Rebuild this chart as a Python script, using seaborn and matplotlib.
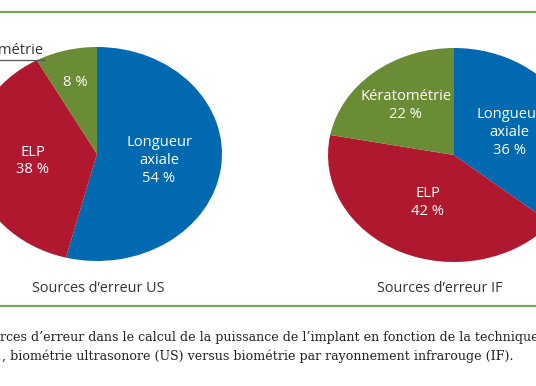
import numpy as np
import matplotlib
matplotlib.use('Agg')
import matplotlib.pyplot as plt
import seaborn as sns

categories = ['Longueur axiale', 'ELP', 'Kératométrie']
us_values = [54, 38, 8]
if_values = [36, 42, 22]
colors = ['#0069AF', '#B0182F', '#6A8C35']
titles = ['Sources d’erreur US', 'Sources d’erreur IF']
caption = ['rces d’erreur dans le calcul de la puissance de l’implant en fonction de la technique',
           ', biométrie ultrasonore (US) versus biométrie par rayonnement infrarouge (IF).']

sns.set_theme(style='white')
plt.rcParams['font.family'] = ['Open Sans', 'DejaVu Sans']

W, H = 536, 386
fig = plt.figure(figsize=(W / 100, H / 100), dpi=100)


def px_axes(cx, cy, rx, ry):
    return fig.add_axes([(cx - rx) / W, (H - cy - ry) / H, 2 * rx / W, 2 * ry / H])


def label_text(cat, val):
    if cat == 'Longueur axiale':
        return f'Longueur\naxiale\n{val} %'
    return f'{cat}\n{val} %'


def draw_pie(ax, values, radii, inside):
    wedges, _ = ax.pie(values, colors=colors, startangle=90, counterclock=False,
                       radius=1, wedgeprops=dict(linewidth=0))
    ax.set_aspect('auto')
    ax.set_xlim(-1, 1)
    ax.set_ylim(-1, 1)
    for w, cat, val, r, show in zip(wedges, categories, values, radii, inside):
        ang = np.deg2rad((w.theta1 + w.theta2) / 2)
        txt = label_text(cat, val) if show else f'{val} %'
        ax.text(r * np.cos(ang), r * np.sin(ang), txt, ha='center', va='center',
                color='white', fontsize=10.6, linespacing=1.25, clip_on=False)


ax1 = px_axes(97, 154, 125, 107)
draw_pie(ax1, us_values, [0.5, 0.52, 0.69], [True, True, False])
ax1.plot([-1.3, -0.42], [0.88, 0.88], color='#555555', lw=0.9, clip_on=False)
ax1.text(-0.43, 0.97, 'Kératométrie', ha='right', va='center', color='#333333',
         fontsize=10.6, clip_on=False)

ax2 = px_axes(454, 155, 126, 107)
draw_pie(ax2, if_values, [0.49, 0.49, 0.6], [True, True, True])

fig.text(98 / W, 1 - 288 / H, titles[0], ha='center', va='center', fontsize=10.4, color='#333333')
fig.text(440 / W, 1 - 288 / H, titles[1], ha='center', va='center', fontsize=10.4, color='#333333')

for y in [12, 306]:
    fig.add_artist(plt.Line2D([0, 1], [1 - y / H, 1 - y / H], color='#7AA55A', lw=1.6))

fig.text(0, 1 - 338 / H, caption[0], ha='left', va='center', fontsize=9.1,
         family='DejaVu Serif', color='#222222')
fig.text(2 / W, 1 - 356 / H, caption[1], ha='left', va='center', fontsize=9.1,
         family='DejaVu Serif', color='#222222')

fig.savefig('out.png', dpi=100)
